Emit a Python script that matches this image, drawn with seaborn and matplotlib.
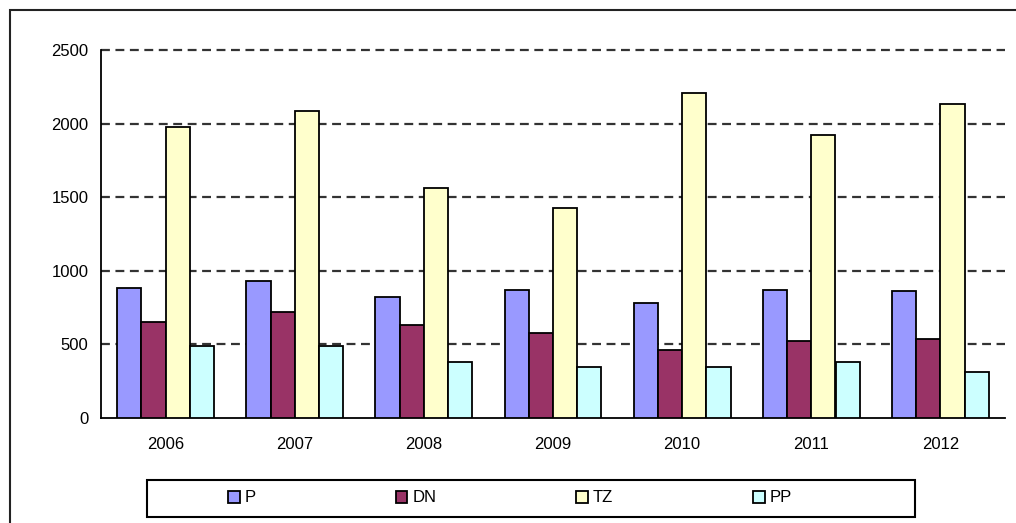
import numpy as np
import pandas as pd
import matplotlib
matplotlib.use("Agg")
import matplotlib.pyplot as plt
from matplotlib.patches import Rectangle
import seaborn as sns

years = ["2006", "2007", "2008", "2009", "2010", "2011", "2012"]
P = [880, 930, 820, 870, 780, 870, 860]
DN = [650, 720, 635, 575, 465, 525, 540]
TZ = [1975, 2085, 1565, 1430, 2205, 1925, 2135]
PP = [490, 490, 380, 345, 345, 380, 310]
series = ["P", "DN", "TZ", "PP"]
colors = ["#9999FF", "#993366", "#FFFFCC", "#CCFFFF"]

df = pd.DataFrame({"year": years, "P": P, "DN": DN, "TZ": TZ, "PP": PP})
df = df.melt(id_vars="year", var_name="series", value_name="value")

sns.set_style("white")
plt.rcParams['font.family'] = ['Liberation Sans', 'DejaVu Sans']
plt.rcParams['text.color'] = 'black'
plt.rcParams['xtick.color'] = 'black'
plt.rcParams['ytick.color'] = 'black'

fig = plt.figure(figsize=(10.16, 5.23), dpi=100)
ax = fig.add_axes([101/1016, 1 - 418/523, 904/1016, 368/523])

sns.barplot(data=df, x="year", y="value", hue="series", hue_order=series,
            palette=colors, width=0.75, edgecolor="black", linewidth=1.3,
            saturation=1, ax=ax, legend=False, zorder=3)

ax.set_ylim(0, 2500)
ax.set_xlim(-0.5, len(years) - 0.5)
ax.set_yticks(range(0, 2501, 500))
ax.set_xlabel("")
ax.set_ylabel("")

# dashed gridlines
for v in range(500, 2501, 500):
    ax.axhline(v, color="#333333", lw=1.6, linestyle=(0, (4, 2.5)), zorder=1, clip_on=False)

for s in ["top", "right"]:
    ax.spines[s].set_visible(False)
for s in ["left", "bottom"]:
    ax.spines[s].set_color("black")
    ax.spines[s].set_linewidth(1.3)

# ticks between categories
ax.set_xticks(np.arange(-0.5, len(years), 1), minor=True)
ax.tick_params(axis="x", which="major", length=0, pad=14, labelsize=12, labelcolor="black")
ax.tick_params(axis="x", which="minor", length=6, width=1.3, direction="out", color="black")
ax.tick_params(axis="y", which="major", length=5, width=1.3, direction="out", color="black",
               labelsize=12, pad=4, labelcolor="black")

# legend
handles = [Rectangle((0, 0), 1, 1, facecolor=c, edgecolor="black", lw=1.3) for c in colors]
fig.legend(handles, series, loc="center", bbox_to_anchor=(510/1016, 1 - 498/523),
           ncol=4, frameon=False, fontsize=12, handlelength=0.7, handleheight=0.7,
           handletextpad=0.3, columnspacing=8.4, labelcolor="black")
fig.patches.append(Rectangle((147/1016, 1 - 517/523), 768/1016, 37/523,
                             transform=fig.transFigure, fill=False,
                             edgecolor="black", lw=1.5))

# outer chart frame
fig.patches.append(Rectangle((10/1016, -0.1), 1.2, 1 - 10/523 + 0.1,
                             transform=fig.transFigure, fill=False,
                             edgecolor="#222222", lw=1.5))

fig.savefig("out.png", dpi=100)
